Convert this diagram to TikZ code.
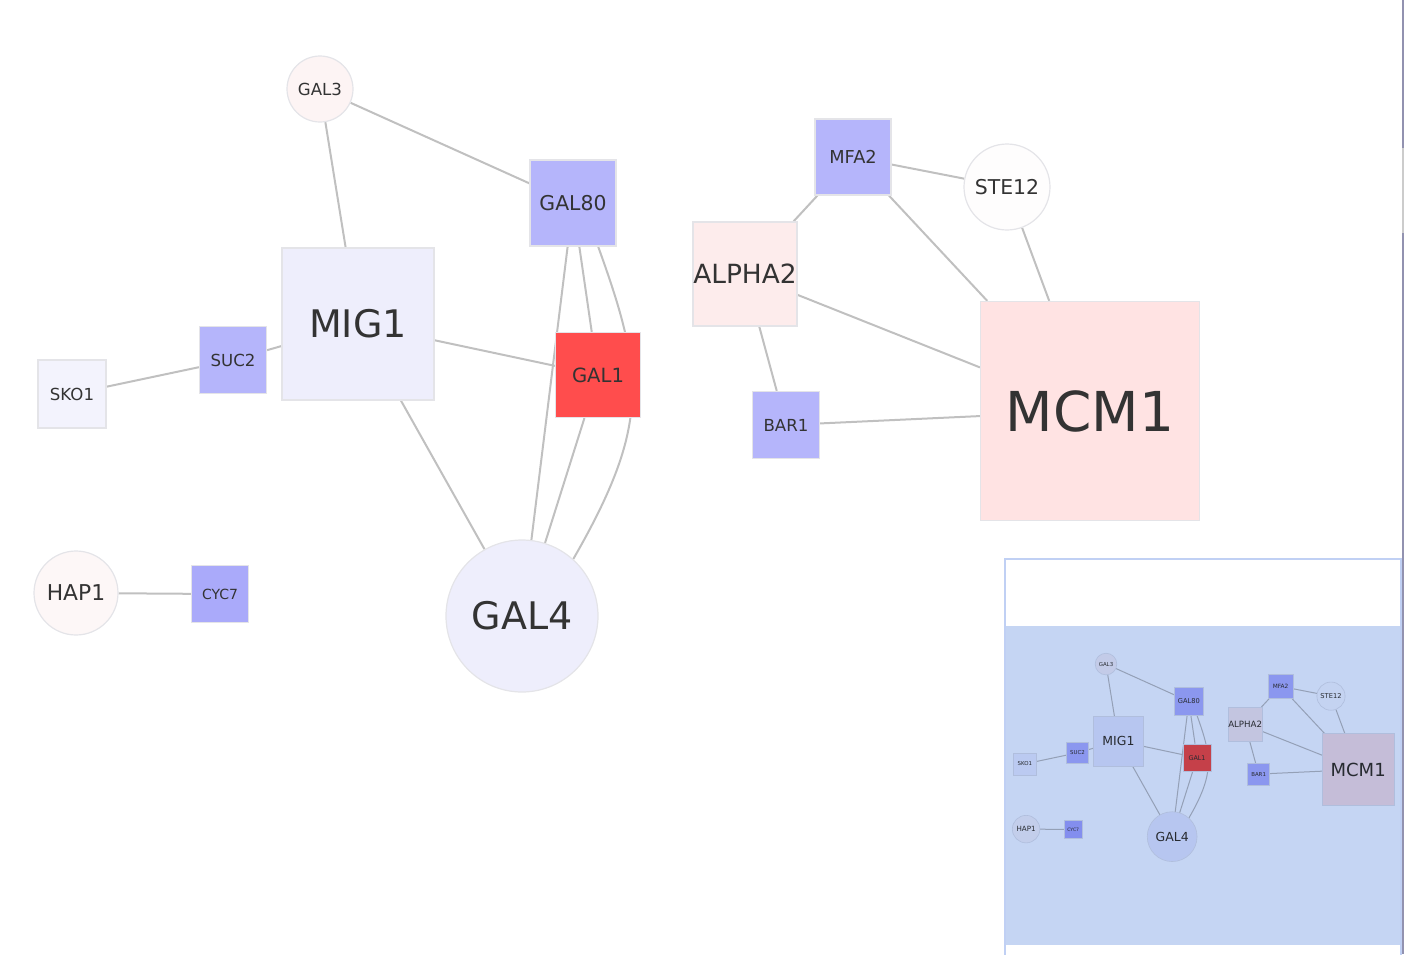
\documentclass[tikz,border=0pt]{standalone}
\usepackage{fontspec}
\setmainfont{DejaVu Sans}
\usepackage{tikz}
\usetikzlibrary{backgrounds}
\definecolor{edgegray}{RGB}{192,192,192}
\definecolor{nodeline}{RGB}{228,228,232}
\definecolor{labeltext}{RGB}{51,51,51}
\definecolor{lowblue}{RGB}{181,181,251}
\definecolor{cycblue}{RGB}{170,170,250}
\definecolor{paleblue}{RGB}{238,238,252}
\definecolor{skofill}{RGB}{243,243,253}
\definecolor{galred}{RGB}{255,77,77}
\definecolor{gal3fill}{RGB}{253,244,244}
\definecolor{hapfill}{RGB}{253,247,247}
\definecolor{stefill}{RGB}{254,253,253}
\definecolor{alphafill}{RGB}{253,236,236}
\definecolor{mcmfill}{RGB}{255,227,227}
\definecolor{navfill}{RGB}{197,213,243}
\definecolor{navline}{RGB}{192,208,244}
\definecolor{sideline}{RGB}{146,146,176}
\tikzset{
  link/.style={draw=edgegray, line width=1pt},
  gbox/.style={rectangle, draw=nodeline, line width=0.6pt, inner sep=0pt, text=labeltext},
  gdisc/.style={circle, draw=nodeline, line width=0.6pt, inner sep=0pt, text=labeltext},
}
\newcommand\lsz[1]{\fontsize{#1}{#1}\selectfont}
% the whole network, #1 is a prefix for the node names
\newcommand\genenet[1]{%
  \node[gdisc, fill=gal3fill, minimum size=33pt, font=\lsz{8.3}] (#1gal3) at (320,89) {GAL3};
  \node[gbox, fill=lowblue, minimum size=43pt, font=\lsz{10.2}] (#1gal80) at (573,203) {GAL80};
  \node[gbox, fill=paleblue, minimum size=76pt, font=\lsz{19}] (#1mig1) at (358,324) {MIG1};
  \node[gbox, fill=galred, minimum size=42.5pt, font=\lsz{9.8}] (#1gal1) at (598,375) {GAL1};
  \node[gbox, fill=lowblue, minimum size=33.5pt, font=\lsz{8.3}] (#1suc2) at (233,360) {SUC2};
  \node[gbox, fill=skofill, minimum size=34pt, font=\lsz{8.3}] (#1sko1) at (72,394) {SKO1};
  \node[gdisc, fill=hapfill, minimum size=42pt, font=\lsz{10.9}] (#1hap1) at (76,593) {HAP1};
  \node[gbox, fill=cycblue, minimum size=28.5pt, font=\lsz{7}] (#1cyc7) at (220,594) {CYC7};
  \node[gdisc, fill=paleblue, minimum size=76pt, font=\lsz{19}] (#1gal4) at (522,616) {GAL4};
  \node[gbox, fill=lowblue, minimum size=38pt, font=\lsz{8.9}] (#1mfa2) at (853,157) {MFA2};
  \node[gdisc, fill=stefill, minimum size=43pt, font=\lsz{10.2}] (#1ste12) at (1007,187) {STE12};
  \node[gbox, fill=alphafill, minimum size=52pt, font=\lsz{13.2}] (#1alpha2) at (745,274) {ALPHA2};
  \node[gbox, fill=lowblue, minimum size=33.5pt, font=\lsz{8.3}] (#1bar1) at (786,425) {BAR1};
  \node[gbox, fill=mcmfill, minimum size=109.5pt, font=\lsz{27.5}] (#1mcm1) at (1090,411) {MCM1};
  \begin{scope}[on background layer]
    \draw[link] (#1gal3) -- (#1mig1);
    \draw[link] (#1gal3) -- (#1gal80);
    \draw[link] (#1sko1) -- (#1suc2);
    \draw[link] (#1suc2) -- (#1mig1);
    \draw[link] (#1mig1) -- (#1gal1);
    \draw[link] (#1mig1) -- (#1gal4);
    \draw[link] (#1gal80) -- (#1gal1);
    \draw[link] (#1gal80) -- (#1gal4);
    \draw[link] (#1gal1) -- (#1gal4);
    \draw[link] (#1gal80.-60) .. controls (644,374) and (651,424) .. (#1gal4.48);
    \draw[link] (#1hap1) -- (#1cyc7);
    \draw[link] (#1mfa2) -- (#1alpha2);
    \draw[link] (#1mfa2) -- (#1ste12);
    \draw[link] (#1mfa2) -- (#1mcm1);
    \draw[link] (#1ste12) -- (#1mcm1);
    \draw[link] (#1alpha2) -- (#1mcm1);
    \draw[link] (#1alpha2) -- (#1bar1);
    \draw[link] (#1bar1) -- (#1mcm1);
  \end{scope}%
}

\begin{document}
\begin{tikzpicture}[x=0.5pt,y=-0.5pt]
  \useasboundingbox (0,0) rectangle (1404,954);
  \genenet{}
  % overview panel
  \begin{scope}[on background layer]
    \fill[white] (1005,559) rectangle (1401,954);
  \end{scope}
  \begin{scope}[shift={(1001.2,634.9)}, scale=0.3275,
      every node/.append style={transform shape},
      link/.append style={line width=0.5pt},
      gbox/.append style={line width=0.3pt}, gdisc/.append style={line width=0.3pt}]
    \genenet{nav}
  \end{scope}
  \begin{scope}[blend mode=multiply]
    \fill[navfill] (1004,626) rectangle (1401,944.5);
  \end{scope}
  \draw[navline, line width=1pt] (1005,960) -- (1005,559) -- (1401,559) -- (1401,960);
  \draw[sideline, line width=1pt] (1403,0) -- (1403,954);
  \draw[black!20, line width=1pt] (1403,148) -- (1403,233);
\end{tikzpicture}
\end{document}
